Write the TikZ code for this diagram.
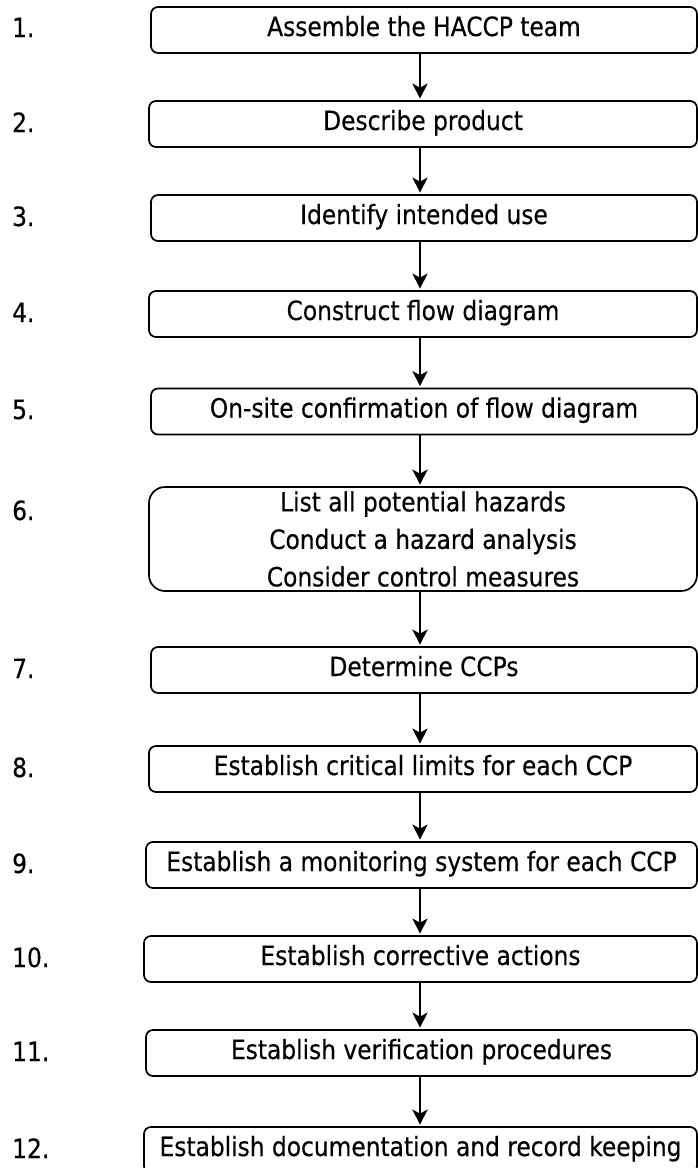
\documentclass[tikz,border=0pt]{standalone}
\usepackage{fontspec}
\setmainfont[FakeStretch=0.88, FakeBold=0.4]{DejaVu Sans}
\usetikzlibrary{arrows.meta}
\tikzset{
  stepbox/.style={draw=black, line width=1.7pt, rounded corners=7pt, inner sep=0pt,
    minimum height=46pt, text height=19pt, text depth=7pt,
    font=\fontsize{26.5pt}{37.5pt}\selectfont},
  bigbox/.style={draw=black, line width=1.7pt, rounded corners=16pt, inner sep=0pt,
    minimum height=104pt, align=center,
    font=\fontsize{26.5pt}{37.5pt}\selectfont},
  numlabel/.style={anchor=base west, inner sep=0pt, font=\fontsize{26.5pt}{37.5pt}\selectfont},
  arr/.style={line width=2.8pt, -{Stealth[length=15pt, width=15pt, inset=4pt]}, shorten >=1.5pt}
}
\begin{document}
\begin{tikzpicture}[x=1pt, y=-1pt]
\useasboundingbox (0,0) rectangle (698,1168);
\coordinate (ax) at (420,0);
\node[stepbox, minimum width=546pt] (b1) at (424,30) {Assemble the HACCP team};
\node[stepbox, minimum width=548pt] (b2) at (423,124) {Describe product};
\node[stepbox, minimum width=546pt] (b3) at (424,218) {Identify intended use};
\node[stepbox, minimum width=548pt] (b4) at (423,314) {Construct flow diagram};
\node[stepbox, minimum width=546pt] (b5) at (424,411.5) {On-site confirmation of flow diagram};
\node[bigbox, minimum width=548pt] (b6) at (423,539) {List all potential hazards\\Conduct a hazard analysis\\Consider control measures};
\node[stepbox, minimum width=546pt] (b7) at (424,670) {Determine CCPs};
\node[stepbox, minimum width=548pt] (b8) at (423,769) {Establish critical limits for each CCP};
\node[stepbox, minimum width=551pt] (b9) at (421.5,865) {Establish a monitoring system for each CCP};
\node[stepbox, minimum width=553pt] (b10) at (420.5,959) {Establish corrective actions};
\node[stepbox, minimum width=551pt] (b11) at (421.5,1053) {Establish verification procedures};
\node[stepbox, minimum width=553pt] (b12) at (420.5,1150) {Establish documentation and record keeping};

\node[numlabel] (n1) at (12,37) {1.};
\node[numlabel] (n2) at (12,132) {2.};
\node[numlabel] (n3) at (12,226) {3.};
\node[numlabel] (n4) at (12,322) {4.};
\node[numlabel] (n5) at (12,419) {5.};
\node[numlabel] (n6) at (12,520) {6.};
\node[numlabel] (n7) at (12,678) {7.};
\node[numlabel] (n8) at (12,777) {8.};
\node[numlabel] (n9) at (12,873) {9.};
\node[numlabel] (n10) at (12,967) {10.};
\node[numlabel] (n11) at (12,1061) {11.};
\node[numlabel] (n12) at (12,1158) {12.};

\foreach \a/\b in {b1/b2,b2/b3,b3/b4,b4/b5,b5/b6,b6/b7,b7/b8,b8/b9,b9/b10,b10/b11,b11/b12}{
  \draw[arr] (\a.south -| ax) -- (\b.north -| ax);
}
\end{tikzpicture}
\end{document}
